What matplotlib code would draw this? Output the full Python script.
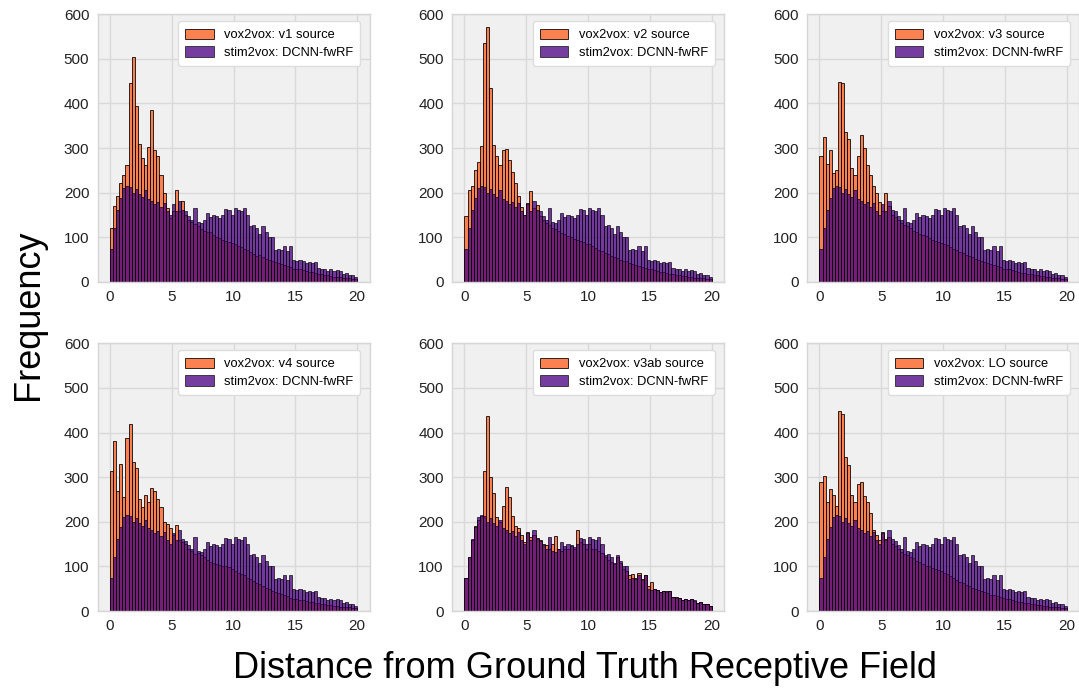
import numpy as np
import matplotlib
matplotlib.use("Agg")
import matplotlib.pyplot as plt

plt.rcParams['font.family'] = ['Liberation Sans', 'DejaVu Sans']

# bins: 0..20 in steps of 0.25
bin_edges = np.arange(0, 20.0001, 0.25)

sources = ["v1", "v2", "v3", "v4", "v3ab", "LO"]

stim2vox = [75,122,162,188,210,215,212,200,208,198,
            190,205,185,182,175,180,168,178,160,150,
            175,160,182,162,158,148,140,165,135,133,
            140,155,145,150,148,143,150,163,162,150,
            165,162,160,165,150,125,128,120,108,125,
            112,100,100,72,75,72,80,70,80,50,
            48,50,48,42,45,42,45,32,30,30,
            25,28,24,27,24,18,20,15,16,12]

vox_v1 = [120,170,192,222,240,262,445,503,395,310,
          278,262,303,385,295,282,240,200,165,143,
          160,207,160,182,150,140,135,130,125,118,
          115,112,113,105,100,98,95,92,90,88,
          85,80,78,75,72,68,62,58,60,55,
          52,50,48,45,42,40,38,36,33,30,
          30,28,26,25,22,22,20,18,18,16,
          15,14,12,12,11,10,9,8,7,6]

vox_v2 = [147,205,215,250,268,305,535,571,434,307,
          282,263,295,297,274,247,222,192,169,150,
          177,203,165,172,148,140,132,128,122,118,
          115,110,108,104,100,97,95,92,90,86,
          84,80,76,72,70,66,62,58,56,53,
          50,48,46,43,40,38,36,34,31,29,
          28,27,25,23,22,20,19,18,16,15,
          14,13,12,11,10,9,8,8,7,6]

vox_v3 = [282,325,265,295,244,250,449,445,337,320,
          256,240,282,330,300,263,240,214,199,180,
          158,200,170,150,145,138,132,128,125,120,
          115,112,108,105,102,98,95,92,90,88,
          85,82,78,75,72,68,64,60,58,55,
          52,50,47,44,42,40,38,35,33,30,
          29,28,26,24,22,21,20,18,17,16,
          15,14,13,12,11,10,9,8,7,6]

vox_v4 = [313,382,270,330,255,388,419,333,320,250,
          232,260,245,275,268,250,232,200,195,187,
          170,192,160,155,150,140,135,128,130,125,
          120,115,110,108,105,103,100,100,98,95,
          90,85,82,80,75,72,68,62,60,55,
          52,50,45,42,40,38,36,33,30,28,
          28,25,24,22,20,20,18,17,16,15,
          14,13,12,11,10,10,9,8,7,6]

vox_v3ab = [75,120,160,190,205,212,313,437,300,264,
            210,200,235,277,255,212,190,186,170,155,
            178,165,170,163,160,150,148,140,150,167,
            140,135,138,140,145,140,182,155,150,140,
            150,140,140,135,130,120,115,110,105,120,
            108,95,90,80,82,75,85,72,80,55,
            65,50,48,42,45,44,45,32,32,30,
            25,28,24,26,22,18,20,15,15,12]

vox_LO = [288,302,245,274,261,235,449,442,345,327,
          259,244,285,288,257,244,219,182,170,160,
          178,162,165,150,145,140,132,128,125,120,
          118,112,110,106,102,100,97,95,92,90,
          86,82,78,74,70,66,62,58,56,52,
          50,47,45,42,40,37,35,33,31,29,
          28,26,25,23,21,20,19,18,16,15,
          14,13,12,11,10,9,8,8,7,6]

vox_all = [vox_v1, vox_v2, vox_v3, vox_v4, vox_v3ab, vox_LO]

xticks = [0, 5, 10, 15, 20]
yticks = [0, 100, 200, 300, 400, 500, 600]

fig = plt.figure(figsize=(10.79, 6.92), dpi=100)

lefts = [0.0905, 0.419, 0.748]
bottoms = [0.5925, 0.117]
w, h = 0.252, 0.387

centers = (bin_edges[:-1] + bin_edges[1:]) / 2

for k, (src, vox) in enumerate(zip(sources, vox_all)):
    r, c = divmod(k, 3)
    ax = fig.add_axes([lefts[c], bottoms[r], w, h])
    ax.set_facecolor('#f0f0f0')
    ax.set_axisbelow(True)
    ax.grid(True, color='#d9d9d9', linewidth=1.0)
    for s in ax.spines.values():
        s.set_color('#d6d6d6')
        s.set_linewidth(1.0)
    ax.hist(centers, bins=bin_edges, weights=vox, color='#fb7a48',
            edgecolor='black', linewidth=0.6, alpha=0.95,
            label=f'vox2vox: {src} source')
    ax.hist(centers, bins=bin_edges, weights=stim2vox, color='#4b0082',
            edgecolor='black', linewidth=0.6, alpha=0.76,
            label='stim2vox: DCNN-fwRF')
    ax.set_xlim(-1, 21)
    ax.set_ylim(0, 600)
    ax.set_xticks(xticks)
    ax.set_yticks(yticks)
    ax.tick_params(length=0, labelsize=11, colors='#222222', pad=6)
    leg = ax.legend(loc='upper right', fontsize=9.3, frameon=True,
                    fancybox=True, framealpha=1.0, borderpad=0.55,
                    labelspacing=0.35, handlelength=2.2, handleheight=0.9,
                    handletextpad=0.8,
                    bbox_to_anchor=(0.99, 0.997))
    leg.get_frame().set_edgecolor('#dddddd')
    leg.get_frame().set_facecolor('white')

fig.text(0.026, 0.545, 'Frequency', rotation=90, fontsize=26,
         ha='center', va='center')
fig.text(0.542, 0.034, 'Distance from Ground Truth Receptive Field',
         fontsize=26, ha='center', va='center')

fig.savefig('out.png', dpi=100)
